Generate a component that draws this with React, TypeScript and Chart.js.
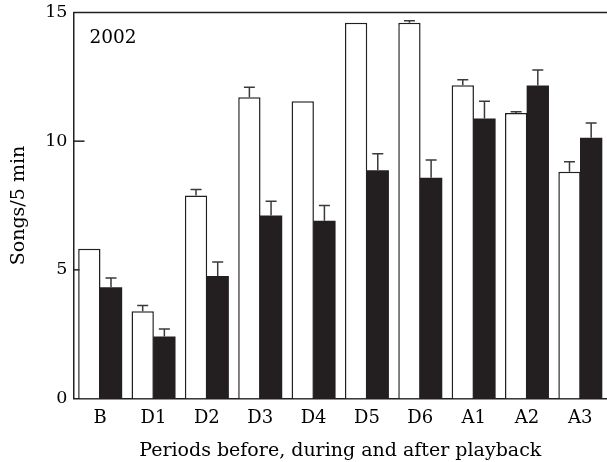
import React, { useEffect, useRef } from "react";
import { Chart, registerables } from "chart.js";

Chart.register(...registerables);

const categories = ["B", "D1", "D2", "D3", "D4", "D5", "D6", "A1", "A2", "A3"];
const openValues = [5.82, 3.39, 7.89, 11.71, 11.55, 14.6, 14.6, 12.17, 11.09, 8.81];
const openErrTop = [5.82, 3.61, 8.12, 12.1, 11.55, 14.6, 14.68, 12.39, 11.14, 9.2];
const filledValues = [4.32, 2.41, 4.76, 7.11, 6.91, 8.87, 8.58, 10.88, 12.16, 10.13];
const filledErrTop = [4.68, 2.7, 5.3, 7.67, 7.5, 9.51, 9.27, 11.55, 12.77, 10.71];
const yTicks = [0, 5, 10, 15];
const yearLabel = "2002";
const xTitle = "Periods before, during and after playback";
const yTitle = "Songs/5 min";

const INK = "#231f20";
const FONT = "'DejaVu Serif', serif";

export default function App() {
  const ref = useRef<HTMLCanvasElement | null>(null);

  useEffect(() => {
    if (!ref.current) return;
    const errs = [openErrTop, filledErrTop];
    const decor = {
      id: "decor",
      beforeDatasetsDraw(chart: any) {
        const { ctx, chartArea, scales } = chart;
        ctx.save();
        ctx.strokeStyle = INK;
        ctx.lineWidth = 1.5;
        for (const v of yTicks) {
          if (v === 0 || v === 15) continue;
          const y = scales.y.getPixelForValue(v);
          ctx.beginPath();
          ctx.moveTo(chartArea.left, y);
          ctx.lineTo(chartArea.left + 11, y);
          ctx.stroke();
        }
        ctx.restore();
      },
      afterDatasetsDraw(chart: any) {
        const { ctx, chartArea, scales } = chart;
        ctx.save();
        ctx.strokeStyle = "#3a3a3a";
        ctx.lineWidth = 1.5;
        errs.forEach((arr, di) => {
          const meta = chart.getDatasetMeta(di);
          meta.data.forEach((bar: any, i: number) => {
            const v = (chart.data.datasets[di].data as number[])[i];
            if (arr[i] - v < 0.04) return;
            const yTop = scales.y.getPixelForValue(arr[i]);
            const yBase = scales.y.getPixelForValue(v);
            ctx.beginPath();
            ctx.moveTo(bar.x, yBase);
            ctx.lineTo(bar.x, yTop);
            ctx.moveTo(bar.x - 5.5, yTop);
            ctx.lineTo(bar.x + 5.5, yTop);
            ctx.stroke();
          });
        });
        // top frame line
        ctx.strokeStyle = INK;
        ctx.lineWidth = 1.5;
        ctx.beginPath();
        ctx.moveTo(chartArea.left, chartArea.top);
        ctx.lineTo(chart.width, chartArea.top);
        ctx.stroke();
        // year label
        ctx.fillStyle = "#000";
        ctx.font = `18.5px ${FONT}`;
        ctx.textBaseline = "middle";
        ctx.textAlign = "left";
        ctx.fillText(yearLabel, chartArea.left + 16, chartArea.top + 26);
        ctx.restore();
      },
    };

    const chart = new Chart(ref.current, {
      type: "bar",
      data: {
        labels: categories,
        datasets: [
          {
            data: openValues,
            backgroundColor: "#ffffff",
            borderColor: INK,
            borderWidth: 1.5,
            barPercentage: 1.03,
            categoryPercentage: 0.8125,
          },
          {
            data: filledValues,
            backgroundColor: INK,
            borderColor: INK,
            borderWidth: 0,
            barPercentage: 1.03,
            categoryPercentage: 0.8125,
          },
        ],
      },
      options: {
        animation: false,
        responsive: true,
        maintainAspectRatio: false,
        layout: { padding: { top: 12.5, right: 0, left: 0, bottom: 0 } },
        plugins: { legend: { display: false }, tooltip: { enabled: false } },
        scales: {
          x: {
            grid: { display: false, drawTicks: false, tickLength: 0 },
            border: { display: true, color: INK, width: 1.5 },
            ticks: { color: "#000", font: { family: FONT, size: 18 }, padding: 9 },
            title: {
              display: true,
              text: xTitle,
              color: "#000",
              font: { family: FONT, size: 19 },
              padding: { top: 4, bottom: 0 },
            },
            afterFit: (s: any) => {
              s.height = 63.5;
              s.paddingLeft = 0;
              s.paddingRight = 0;
            },
          },
          y: {
            min: 0,
            max: 15,
            afterBuildTicks: (s: any) => {
              s.ticks = yTicks.map((v) => ({ value: v }));
            },
            grid: { display: false, drawTicks: false, tickLength: 0 },
            border: { display: true, color: INK, width: 1.5 },
            ticks: { color: "#000", font: { family: FONT, size: 17.5 }, padding: 6 },
            title: {
              display: true,
              text: yTitle,
              color: "#000",
              font: { family: FONT, size: 19 },
              padding: { top: 8, bottom: 0 },
            },
            afterFit: (s: any) => {
              s.width = 73.5;
              s.paddingTop = 0;
              s.paddingBottom = 0;
            },
          },
        },
      },
      plugins: [decor],
    });
    return () => chart.destroy();
  }, []);

  return (
    <div style={{ position: "absolute", left: 0, top: 0, width: 607, height: 462 }}>
      <canvas ref={ref} />
    </div>
  );
}
